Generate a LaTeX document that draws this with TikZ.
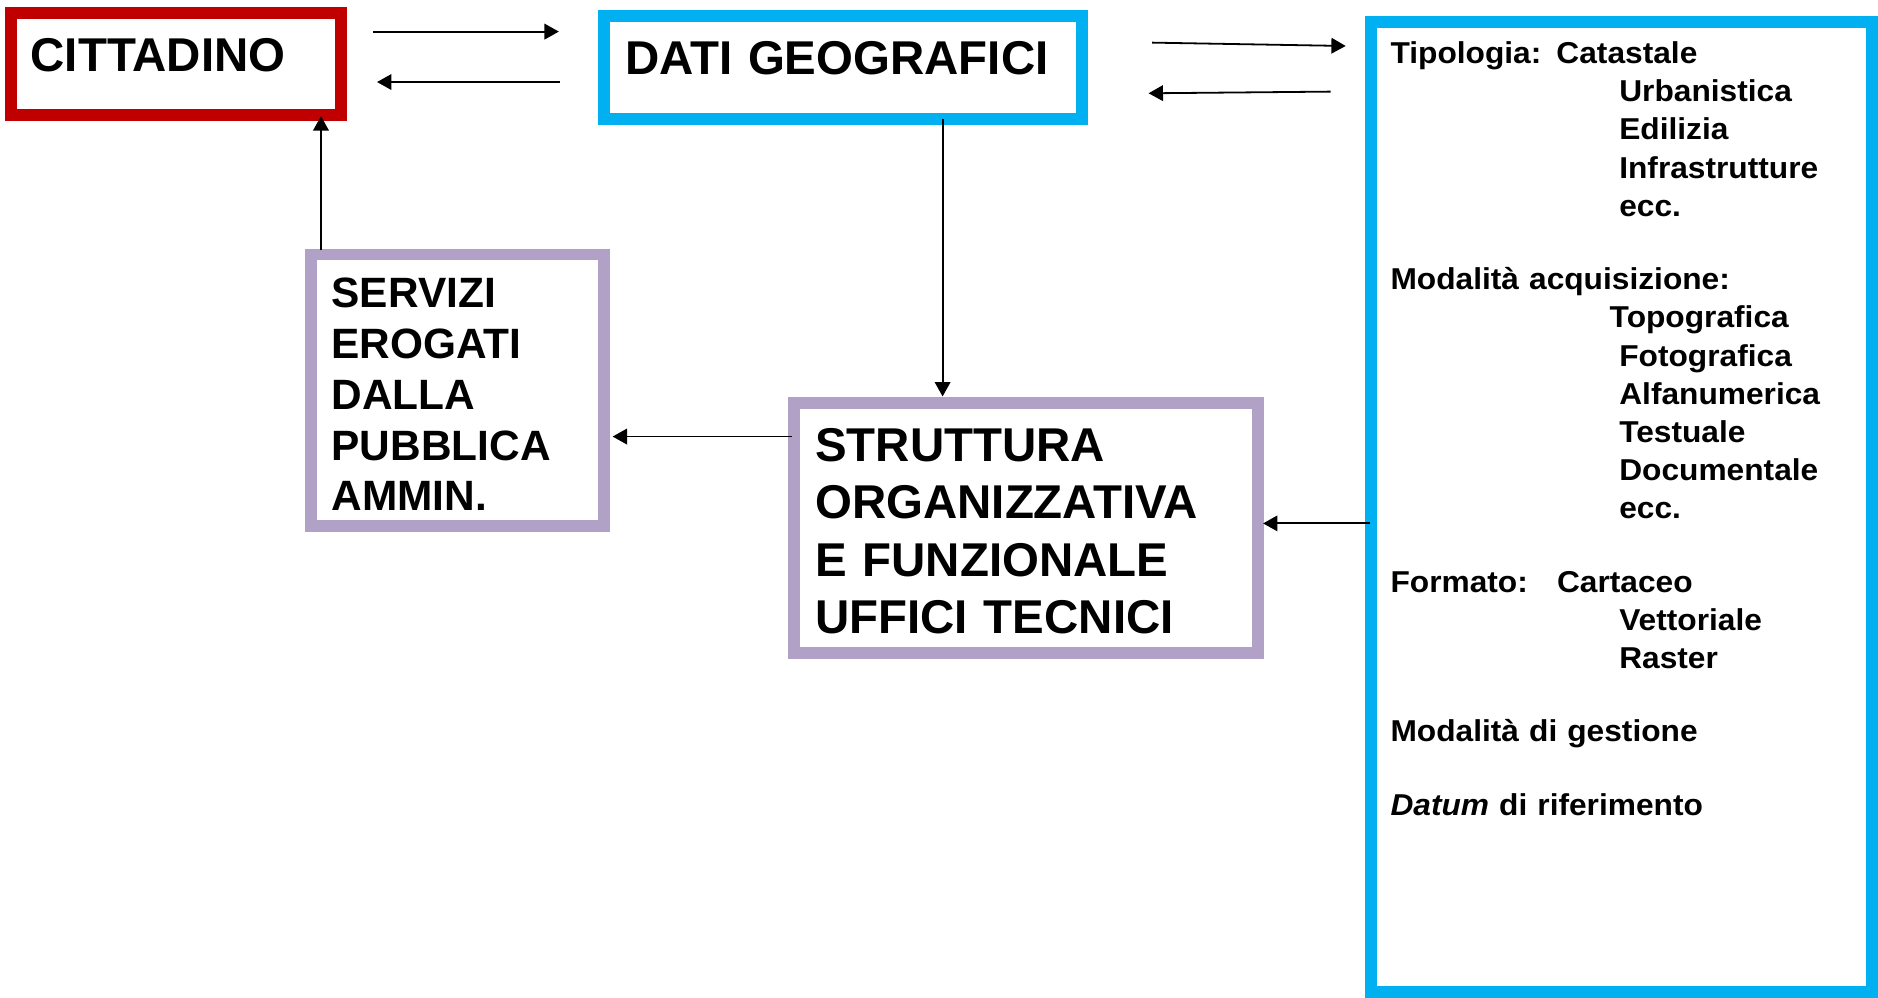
\documentclass[tikz,border=0pt]{standalone}
\usepackage{fontspec}
\setmainfont{Liberation Sans}
\newfontfamily\elencofont[FakeStretch=1.05]{Liberation Sans}
\usetikzlibrary{arrows.meta}

\definecolor{rossocit}{HTML}{C00000}
\definecolor{azzurro}{HTML}{00B0F0}
\definecolor{lilla}{HTML}{B2A1C7}

\newcommand{\voce}[1]{\hspace*{95.5pt}#1}

\tikzset{
    box/.style={draw, line width=5pt, anchor=north west, inner ysep=0pt, outer sep=0pt, align=left},
    titolo/.style={font=\bfseries\fontsize{19.8pt}{23.9pt}\selectfont},
    arr/.style={-{Triangle[length=6pt,width=6.5pt]}, line width=0.75pt},
}

\begin{document}
\begin{tikzpicture}[x=0.5pt, y=-0.5pt]
    \useasboundingbox (0,0) rectangle (1568,833);
    \node[box, titolo, draw=rossocit, inner xsep=8.3pt, text width=121.2pt, text height=24.15pt, text depth=18.35pt] (cit) at (9,11) {CITTADINO};
    \node[box, titolo, draw=azzurro, inner xsep=8.95pt, text width=181.6pt, text height=24.1pt, text depth=18.85pt] (dati) at (504,13.6) {DATI GEOGRAFICI};
    \node[box, draw=lilla, inner xsep=8.45pt, text width=105.1pt, text height=22.05pt, text depth=91.2pt,
          font=\bfseries\fontsize{17.7pt}{21.25pt}\selectfont] (serv) at (260,212.5)
          {SERVIZI\\ EROGATI\\ DALLA\\ PUBBLICA\\ AMMIN.};
    \node[box, titolo, draw=lilla, inner xsep=8.85pt, text width=176pt, text height=24.5pt, text depth=79.75pt] (strutt) at (663,336.5)
          {STRUTTURA\\ ORGANIZZATIVA\\ E FUNZIONALE\\ UFFICI TECNICI};
    \node[box, draw=azzurro, inner xsep=8.25pt, text width=192.75pt, text height=17.25pt, text depth=387.75pt,
          font=\elencofont\bfseries\fontsize{12.6pt}{15.95pt}\selectfont] (tipi) at (1144.5,18.5)
          {Tipologia: Catastale\\
           \voce{Urbanistica}\\
           \voce{Edilizia}\\
           \voce{Infrastrutture}\\
           \voce{ecc.}\\[14.65pt]
           Modalità acquisizione:\\
           \hspace*{91.5pt}Topografica\\
           \voce{Fotografica}\\
           \voce{Alfanumerica}\\
           \voce{Testuale}\\
           \voce{Documentale}\\
           \voce{ecc.}\\[14.65pt]
           \makebox[69.5pt][l]{Formato:}Cartaceo\\
           \voce{Vettoriale}\\
           \voce{Raster}\\[14.65pt]
           Modalità di gestione\\[14.65pt]
           \textit{Datum} di riferimento};

    \draw[arr] ([shift={(27,15.4)}]cit.north east) -- ([shift={(-37.4,12.8)}]dati.north west);
    \draw[arr] ([shift={(-36.4,54.9)}]dati.north west) -- ([shift={(30.2,57.5)}]cit.north east);
    \draw[arr] ([shift={(59,22)}]dati.north east) -- ([shift={(-20.9,19.9)}]tipi.north west);
    \draw[arr] ([shift={(-33.5,58)}]tipi.north west) -- ([shift={(56,64.3)}]dati.north east);
    \draw[arr] ([shift={(83.5,0)}]dati.south) -- ([shift={(-69.7,-5.5)}]strutt.north);
    \draw[arr] ([shift={(-1.6,28)}]strutt.north west) -- ([shift={(7.5,152)}]serv.north east);
    \draw[arr] ([shift={(-1,418.5)}]tipi.north west) -- ([shift={(4.2,100.5)}]strutt.north east);
    \draw[arr] ([shift={(8,-3.5)}]serv.north west) -- ([shift={(259,1)}]cit.south west);
\end{tikzpicture}
\end{document}
